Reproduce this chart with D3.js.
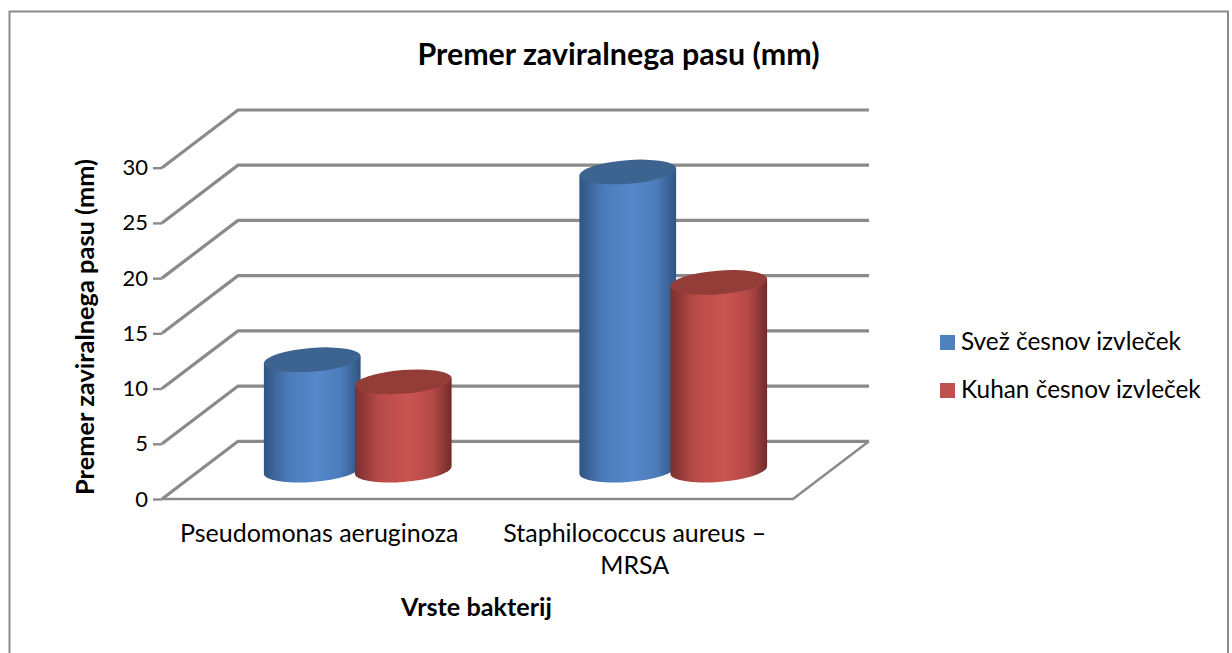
<!DOCTYPE html>
<html lang="sl">
<head>
<meta charset="UTF-8">
<title>Premer zaviralnega pasu</title>
<script src="https://d3js.org/d3.v7.min.js"></script>
<style>
  html, body { margin: 0; padding: 0; background: #fff; }
  svg { display: block; }
  text { font-family: Lato, "Open Sans", sans-serif; fill: #000; }
</style>
</head>
<body>
<svg width="1232" height="653"></svg>
<script>
// values
const categories = ["Pseudomonas aeruginoza", "Staphilococcus aureus – MRSA"];
const seriesNames = ["Svež česnov izvleček", "Kuhan česnov izvleček"];
const svez = [10, 27];
const kuhan = [8, 17];
const yTicks = [0, 5, 10, 15, 20, 25, 30];

const seriesValues = [svez, kuhan];
const seriesColors = [
  {name: "blue", edgeL: "#2f5581", mid: "#5588cb", edgeR: "#2f5581", top: "#3e6491", key: "#4f81bd"},
  {name: "red", edgeL: "#7a2f2d", mid: "#cb5451", edgeR: "#722b29", top: "#943c38", key: "#c0504d"}
];

const svg = d3.select("svg");
const gridColor = "#8a8a8a";

// outer frame (bottom edge falls off the picture)
svg.append("path")
  .attr("d", "M9.5,660V11.5H1228V660")
  .attr("fill", "none").attr("stroke", gridColor).attr("stroke-width", 2);

// scales for the front plane of the 3d box
const y = d3.scaleLinear().domain([0, 30]).range([499, 167.7]);
const x0 = d3.scaleBand().domain(categories).range([162, 793]);
const x1 = d3.scaleBand().domain([0, 1]).range([-91, 91]);

// depth of the box
const depthX = 76, depthY = -57.7;
const project = (px, py, d) => [px + depthX * d, py + depthY * d];

const defs = svg.append("defs");
const soft = defs.append("filter").attr("id", "soft")
  .attr("x", "-5%").attr("y", "-5%").attr("width", "110%").attr("height", "110%");
soft.append("feGaussianBlur").attr("stdDeviation", 0.45);

seriesColors.forEach(c => {
  const g = defs.append("linearGradient").attr("id", "grad-" + c.name);
  g.append("stop").attr("offset", "0%").attr("stop-color", c.edgeL);
  g.append("stop").attr("offset", "25%").attr("stop-color", d3.interpolateRgb(c.edgeL, c.mid)(0.75));
  g.append("stop").attr("offset", "55%").attr("stop-color", c.mid);
  g.append("stop").attr("offset", "80%").attr("stop-color", d3.interpolateRgb(c.edgeR, c.mid)(0.75));
  g.append("stop").attr("offset", "100%").attr("stop-color", c.edgeR);
});

const plot = svg.append("g").attr("filter", "url(#soft)");

// back wall lines and side wall diagonals
const x2 = x0.range()[1];
const xLeft = x0.range()[0];
yTicks.forEach(t => {
  const a = project(xLeft, y(t), 0);
  const b = project(xLeft, y(t), 1);
  const c = project(x2, y(t), 1);
  plot.append("path")
    .attr("d", d3.line()([a, b, c]))
    .attr("fill", "none").attr("stroke", gridColor).attr("stroke-width", 3.2);
});

// floor
const floorEnd = project(x2, y(0), 1);
plot.append("path")
  .attr("d", d3.line()([[xLeft, y(0)], [x2, y(0)], floorEnd]))
  .attr("fill", "none").attr("stroke", gridColor).attr("stroke-width", 2.4);

// cylinders
const rx = 48.5, ry = 11.8, tilt = -4.5;
const phi = tilt * Math.PI / 180;
const tanT = -(ry / rx) * Math.tan(phi);
const t0 = Math.atan(tanT);
const ex = rx * Math.cos(t0) * Math.cos(phi) - ry * Math.sin(t0) * Math.sin(phi);
const ey = rx * Math.cos(t0) * Math.sin(phi) + ry * Math.sin(t0) * Math.cos(phi);

categories.forEach((cat, i) => {
  seriesValues.forEach((vals, s) => {
    const fx = x0(cat) + x0.bandwidth() / 2 + x1(s) + x1.bandwidth() / 2;
    const base = project(fx, y(0), 0.5);
    const top = project(fx, y(vals[i]), 0.5);
    const c = seriesColors[s];
    const cyl = plot.append("g");
    cyl.append("path")
      .attr("d", `M${top[0] - ex},${top[1] - ey}L${base[0] - ex},${base[1] - ey}` +
        `A${rx},${ry} ${tilt} 0 0 ${base[0] + ex},${base[1] + ey}L${top[0] + ex},${top[1] + ey}Z`)
      .attr("fill", `url(#grad-${c.name})`);
    cyl.append("ellipse")
      .attr("rx", rx).attr("ry", ry)
      .attr("transform", `translate(${top[0]},${top[1]}) rotate(${tilt})`)
      .attr("fill", c.top);
  });
});

// value axis
const axis = svg.append("g").attr("transform", `translate(${xLeft},0)`)
  .call(d3.axisLeft(y).tickValues(yTicks).tickSize(9).tickPadding(5));
axis.selectAll("path").attr("d", `M0,${y(0)}V${y(30)}`)
  .attr("stroke", gridColor).attr("stroke-width", 3.2).attr("filter", "url(#soft)");
axis.selectAll("line").attr("stroke", gridColor).attr("stroke-width", 2.4);
axis.selectAll("text").style("font-size", "22px").style("font-family", "Lato").attr("fill", "#000");

// category labels
const catLines = [["Pseudomonas aeruginoza"], ["Staphilococcus aureus –", "MRSA"]];
categories.forEach((cat, i) => {
  const cx = x0(cat) + x0.bandwidth() / 2 - 0.5;
  catLines[i].forEach((ln, j) => {
    svg.append("text").attr("x", cx).attr("y", 542 + j * 32)
      .attr("text-anchor", "middle").style("font-size", "25px").text(ln);
  });
});

// titles
svg.append("text").attr("x", 618.5).attr("y", 65).attr("text-anchor", "middle")
  .style("font-size", "30.4px").style("font-weight", 700).text("Premer zaviralnega pasu (mm)");
svg.append("text").attr("x", 476.5).attr("y", 616).attr("text-anchor", "middle")
  .style("font-size", "25.2px").style("font-weight", 700).text("Vrste bakterij");
svg.append("text").attr("transform", "translate(94,327) rotate(-90)").attr("text-anchor", "middle")
  .style("font-size", "25.4px").style("font-weight", 700).text("Premer zaviralnega pasu (mm)");

// legend
const legendY = d3.scalePoint().domain(seriesNames).range([335, 383]);
seriesNames.forEach((n, s) => {
  svg.append("rect").attr("x", 940).attr("y", legendY(n)).attr("width", 15).attr("height", 15)
    .attr("fill", seriesColors[s].key);
  svg.append("text").attr("x", 961).attr("y", legendY(n) + 15)
    .style("font-size", "24.4px").text(n);
});
</script>
</body>
</html>
